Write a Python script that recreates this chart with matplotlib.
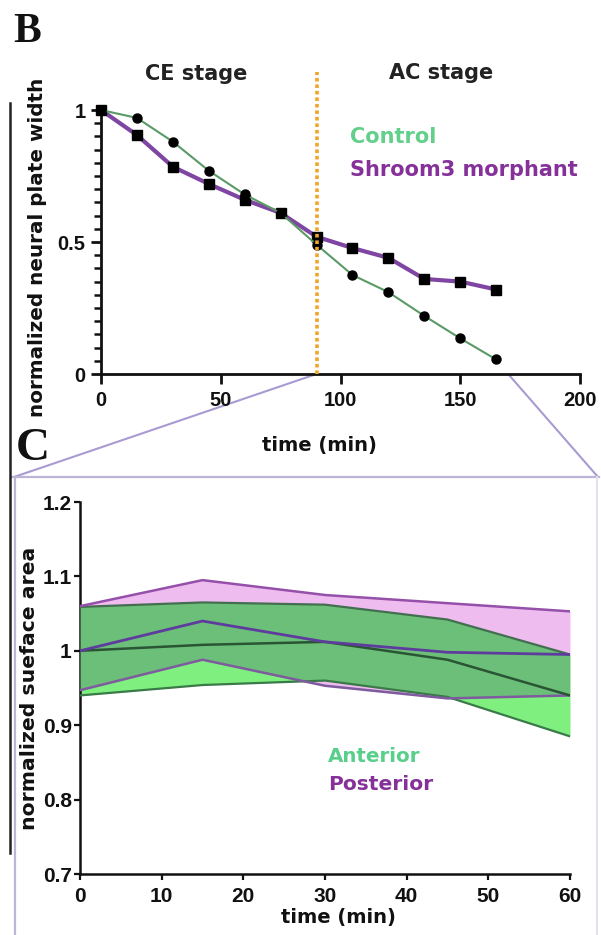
import numpy as np
import matplotlib
matplotlib.use("Agg")
import matplotlib.pyplot as plt
from matplotlib.patches import ConnectionPatch
from matplotlib.lines import Line2D
from matplotlib.ticker import MultipleLocator

# ---------------- Panel B data ----------------
time_b = [0, 15, 30, 45, 60, 75, 90, 105, 120, 135, 150, 165]
control = [1.0, 0.97, 0.88, 0.77, 0.68, 0.61, 0.49, 0.375, 0.31, 0.22, 0.135, 0.055]
morphant = [1.0, 0.905, 0.785, 0.72, 0.66, 0.61, 0.52, 0.477, 0.44, 0.36, 0.35, 0.32]
stage_boundary = 90
zoom_end = 170
xticks_b = [0, 50, 100, 150, 200]
yticks_b = [0, 0.5, 1]
yticklabels_b = ['0', '0.5', '1']

# ---------------- Panel C data ----------------
time_c = [0, 15, 30, 45, 60]
ant_mean = [1.0, 1.008, 1.012, 0.988, 0.94]
ant_upper = [1.059, 1.065, 1.062, 1.042, 0.995]
ant_lower = [0.94, 0.954, 0.96, 0.938, 0.885]
post_mean = [1.0, 1.04, 1.012, 0.998, 0.995]
post_upper = [1.06, 1.095, 1.075, 1.064, 1.053]
post_lower = [0.947, 0.988, 0.953, 0.936, 0.94]
xticks_c = [0, 10, 20, 30, 40, 50, 60]
yticks_c = [0.7, 0.8, 0.9, 1.0, 1.1, 1.2]
yticklabels_c = ['0.7', '0.8', '0.9', '1', '1.1', '1.2']

W, H = 601, 935
TICKF = ['Liberation Sans', 'DejaVu Sans']
TEXTF = ['DejaVu Sans']
SERIF = ['Liberation Serif', 'DejaVu Serif']
plt.rcParams['font.family'] = TICKF
plt.rcParams['font.weight'] = 'bold'

fig = plt.figure(figsize=(W / 100, H / 100), dpi=100)


def fx(px):
    return px / W


def fy(py):
    return 1 - py / H


# ---------------- Panel B ----------------
ax1 = fig.add_axes([fx(101), fy(374), fx(580) - fx(101), fy(110) - fy(374)])
ax1.plot(time_b, control, color='#5a9a66', lw=1.5, marker='o', ms=6.5,
         mfc='black', mec='black', clip_on=False, zorder=4)
ax1.plot(time_b, morphant, color='#7e46a2', lw=3, marker='s', ms=6.5,
         mfc='black', mec='black', clip_on=False, zorder=3)
ax1.axvline(stage_boundary, ymin=0, ymax=1.145, color='#f0a628', lw=2.6,
            ls=(0, (1, 0.8)), clip_on=False, zorder=5)
ax1.set_xlim(0, 200)
ax1.set_ylim(0, 1)
ax1.set_xticks(xticks_b)
ax1.set_yticks(yticks_b)
ax1.set_yticklabels(yticklabels_b)
ax1.yaxis.set_minor_locator(MultipleLocator(0.05))
for s in ['top', 'right']:
    ax1.spines[s].set_visible(False)
for s in ['left', 'bottom']:
    ax1.spines[s].set_linewidth(2.0)
    ax1.spines[s].set_color('#111111')
ax1.tick_params(which='major', direction='out', length=7, width=2.0,
                labelsize=14.5, pad=4, colors='#111111')
ax1.tick_params(which='minor', direction='out', length=5, width=1.8, colors='#111111')
ax1.tick_params(axis='x', pad=5)
for lab in ax1.get_xticklabels() + ax1.get_yticklabels():
    lab.set_fontweight('bold')
ax1.set_xlabel('time (min)', fontsize=14, fontweight='bold', color='#111111',
               family=TEXTF)
ax1.xaxis.set_label_coords(0.457, -0.235)
ax1.set_ylabel('normalized neural plate width', fontsize=14.4, fontweight='bold',
               color='#111111', family=TEXTF)
ax1.yaxis.set_label_coords(-0.113, 0.48)

fig.text(fx(196), fy(74), 'CE stage', ha='center', va='center', fontsize=15,
         fontweight='bold', color='#222222', family=TEXTF)
fig.text(fx(441), fy(73), 'AC stage', ha='center', va='center', fontsize=15,
         fontweight='bold', color='#222222', family=TEXTF)
fig.text(fx(350), fy(137), 'Control', ha='left', va='center', fontsize=15,
         fontweight='bold', color='#62d08a', family=TEXTF)
fig.text(fx(350), fy(170), 'Shroom3 morphant', ha='left', va='center', fontsize=15,
         fontweight='bold', color='#86309a', family=TEXTF)

# ---------------- Panel C ----------------
ax2 = fig.add_axes([fx(80), fy(874), fx(570) - fx(80), fy(502) - fy(874)])
pink = ax2.fill_between(time_c, post_lower, post_upper, color='#efbcf0', lw=0, zorder=1)
ax2.fill_between(time_c, ant_lower, ant_upper, color='#7ff07f', lw=0, zorder=2)
ovl = ax2.fill_between(time_c, ant_lower, ant_upper, color='#6cbf78', lw=0, zorder=3)
ovl.set_clip_path(pink.get_paths()[0], ax2.transData)

ax2.plot(time_c, ant_upper, color='#436e50', lw=1.6, zorder=4)
ax2.plot(time_c, ant_lower, color='#3a7a48', lw=1.6, zorder=4)
ax2.plot(time_c, ant_mean, color='#2a5534', lw=1.8, zorder=5)
ax2.plot(time_c, post_upper, color='#9550aa', lw=1.8, zorder=4)
ax2.plot(time_c, post_lower, color='#7e5a9e', lw=1.8, zorder=4)
ax2.plot(time_c, post_mean, color='#5e3c9e', lw=2.0, zorder=5)

ax2.set_xlim(0, 60)
ax2.set_ylim(0.7, 1.2)
ax2.set_xticks(xticks_c)
ax2.set_yticks(yticks_c)
ax2.set_yticklabels(yticklabels_c)
for s in ['top', 'right']:
    ax2.spines[s].set_visible(False)
for s in ['left', 'bottom']:
    ax2.spines[s].set_linewidth(1.8)
    ax2.spines[s].set_color('#111111')
ax2.tick_params(which='major', direction='out', length=4, width=1.6,
                labelsize=15, pad=2, colors='#111111')
ax2.tick_params(axis='x', pad=5)
for lab in ax2.get_xticklabels() + ax2.get_yticklabels():
    lab.set_fontweight('bold')
ax2.set_xlabel('time (min)', fontsize=14, fontweight='bold', color='#111111',
               family=TEXTF)
ax2.xaxis.set_label_coords(0.527, -0.092)
ax2.set_ylabel('normalized sueface area', fontsize=14.7, fontweight='bold',
               color='#111111', family=TEXTF)
ax2.yaxis.set_label_coords(-0.084, 0.5)

fig.text(fx(328), fy(757), 'Anterior', ha='left', va='center', fontsize=14.3,
         fontweight='bold', color='#58cf8a', family=TEXTF)
fig.text(fx(328), fy(785), 'Posterior', ha='left', va='center', fontsize=14.6,
         fontweight='bold', color='#86309a', family=TEXTF)

# ---------------- Decorations ----------------
fig.text(fx(13), fy(32), 'B', ha='left', va='center', fontsize=30,
         fontweight='bold', family=SERIF, color='#111111')
fig.text(fx(16), fy(449), 'C', ha='left', va='center', fontsize=34,
         fontweight='bold', family=SERIF, color='#111111')

frame_col = '#bdb4d8'
fig.add_artist(Line2D([fx(12), fx(599)], [fy(477), fy(477)], color=frame_col, lw=1.6))
fig.add_artist(Line2D([fx(15), fx(15)], [fy(477), fy(935)], color=frame_col, lw=1.6))
fig.add_artist(Line2D([fx(597), fx(597)], [fy(477), fy(935)], color='#e4e0ee', lw=1.4))
fig.add_artist(Line2D([fx(10), fx(10)], [fy(103), fy(853)], color='#222222', lw=1.8))

for x_from, x_to in [(stage_boundary, 14), (zoom_end, 598)]:
    cp = ConnectionPatch(xyA=(x_from, 0), coordsA=ax1.transData,
                         xyB=(fx(x_to), fy(477)), coordsB='figure fraction',
                         color='#a99ad2', lw=1.5, zorder=0)
    fig.add_artist(cp)

fig.savefig('out.png', dpi=100)
